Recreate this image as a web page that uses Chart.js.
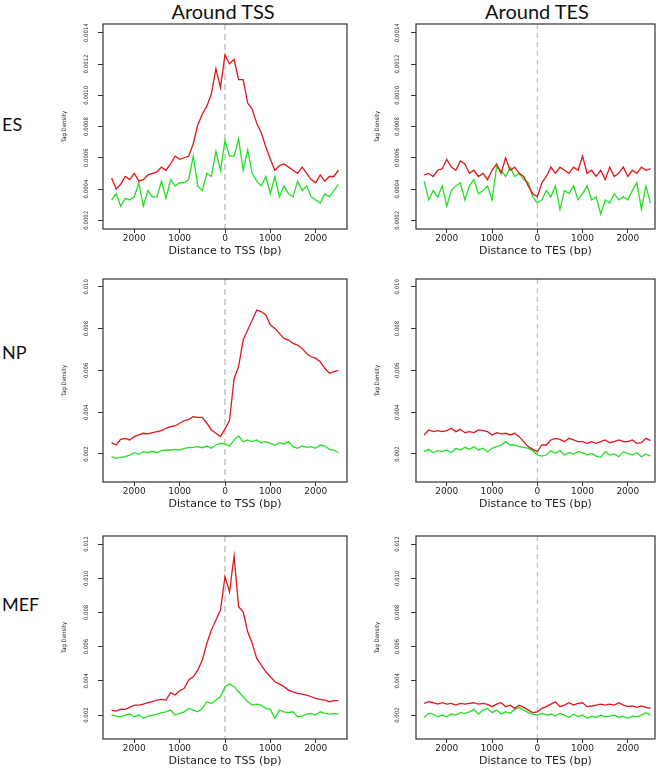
<!DOCTYPE html>
<html>
<head>
<meta charset="utf-8">
<script src="https://cdn.jsdelivr.net/npm/chart.js"></script>
<style>
  body { margin: 0; width: 661px; height: 769px; background: #fff; position: relative; overflow: hidden; font-family: Lato, "Open Sans", sans-serif; color: #111; }
  .coltitle { position: absolute; top: 1px; width: 250px; text-align: center; font-size: 20px; line-height: 20px; }
  .rowlabel { position: absolute; left: 2px; font-size: 18px; line-height: 18px; }
</style>
</head>
<body>
<div class="coltitle" style="left:98px">Around TSS</div>
<div class="coltitle" style="left:412px">Around TES</div>
<div class="rowlabel" style="top:115px">ES</div>
<div class="rowlabel" style="top:343px">NP</div>
<div class="rowlabel" style="top:595px">MEF</div>

<script>
// distance from TSS / TES in bp
const positions = [-2500, -2400, -2300, -2200, -2100, -2000, -1900, -1800, -1700, -1600,
  -1500, -1400, -1300, -1200, -1100, -1000, -900, -800, -700, -600,
  -500, -400, -300, -200, -100, 0, 100, 200, 300, 400,
  500, 600, 700, 800, 900, 1000, 1100, 1200, 1300, 1400,
  1500, 1600, 1700, 1800, 1900, 2000, 2100, 2200, 2300, 2400, 2500];
const xTicks = [-2000, -1000, 0, 1000, 2000];

const esTicks = [0.0002, 0.0004, 0.0006, 0.0008, 0.0010, 0.0012, 0.0014];
const npTicks = [0.002, 0.004, 0.006, 0.008, 0.010];
const mefTicks = [0.002, 0.004, 0.006, 0.008, 0.010, 0.012];

// ES values in units of 1e-4, NP and MEF in units of 1e-3
const esUnit = 1e-4;
const npUnit = 1e-3;
const mefUnit = 1e-3;

const esTssRed = [4.7, 4.0, 4.3, 4.8, 4.6, 5.0, 4.5, 4.6, 4.9, 5.0, 5.1, 5.4, 5.2, 5.6, 6.1, 5.9, 6.0, 6.1, 6.9, 8.1,
  8.8, 9.3, 10.1, 11.7, 10.5, 12.6, 12.0, 12.3, 11.0, 11.0, 9.5, 9.1, 8.2, 7.6, 6.7, 5.9, 5.2, 5.5, 5.6, 5.4,
  5.2, 5.0, 5.4, 5.0, 4.6, 4.4, 4.9, 4.5, 4.8, 4.8, 5.2];
const esTssGreen = [3.3, 3.7, 2.9, 3.4, 3.3, 3.5, 4.4, 2.9, 3.9, 3.5, 3.5, 4.5, 3.4, 4.6, 4.2, 4.4, 4.4, 4.6, 6.1, 4.2,
  3.9, 5.0, 4.8, 6.4, 5.2, 7.1, 6.1, 6.1, 7.2, 5.2, 6.5, 5.0, 4.5, 4.2, 4.8, 3.7, 4.8, 3.5, 4.2, 3.7,
  3.5, 4.5, 3.9, 4.2, 3.5, 3.3, 3.1, 3.7, 3.5, 3.9, 4.3];
const esTesRed = [4.9, 5.0, 4.8, 5.2, 5.3, 5.9, 5.4, 5.2, 5.8, 5.6, 5.0, 5.2, 4.8, 5.0, 4.6, 5.2, 5.6, 5.0, 6.0, 5.2,
  5.4, 5.0, 4.8, 4.2, 3.7, 3.5, 4.4, 4.8, 5.4, 5.0, 5.4, 5.2, 5.0, 5.4, 5.2, 6.1, 5.0, 5.2, 4.8, 5.2,
  4.6, 5.4, 4.8, 5.0, 5.4, 4.8, 5.2, 5.0, 5.4, 5.2, 5.3];
const esTesGreen = [4.5, 3.3, 3.9, 3.5, 4.2, 2.9, 3.9, 4.2, 4.4, 3.3, 4.2, 4.6, 3.7, 3.9, 4.2, 3.3, 5.4, 5.2, 4.8, 5.4,
  4.8, 5.0, 4.6, 4.4, 3.5, 3.1, 3.3, 3.9, 3.5, 4.2, 2.7, 3.9, 3.7, 4.2, 3.3, 3.7, 4.2, 3.3, 3.5, 2.4,
  3.3, 3.1, 3.7, 3.3, 3.5, 3.3, 3.9, 4.4, 2.7, 4.2, 3.1];

const npTssRed = [2.54, 2.43, 2.70, 2.75, 2.67, 2.83, 2.91, 2.99, 2.96, 3.02, 3.07, 3.12, 3.23, 3.31, 3.34, 3.47, 3.59, 3.66, 3.78, 3.75,
  3.75, 3.47, 3.15, 2.99, 2.83, 3.20, 3.60, 5.60, 6.18, 7.45, 7.93, 8.41, 8.88, 8.80, 8.65, 8.17, 8.00, 7.77, 7.53, 7.45,
  7.29, 7.21, 7.05, 6.81, 6.65, 6.57, 6.41, 6.10, 5.86, 5.94, 6.00];
const npTssGreen = [1.87, 1.79, 1.84, 1.87, 1.95, 2.06, 1.98, 2.11, 2.06, 2.13, 2.06, 2.16, 2.19, 2.19, 2.22, 2.19, 2.27, 2.30, 2.32, 2.35,
  2.30, 2.38, 2.27, 2.43, 2.51, 2.48, 2.38, 2.67, 2.86, 2.59, 2.67, 2.59, 2.67, 2.54, 2.59, 2.51, 2.43, 2.54, 2.48, 2.59,
  2.35, 2.27, 2.38, 2.32, 2.35, 2.27, 2.43, 2.38, 2.22, 2.19, 2.06];
const npTesRed = [2.91, 3.15, 3.07, 3.12, 3.07, 3.12, 3.23, 3.07, 3.18, 3.02, 3.07, 3.02, 3.15, 3.12, 3.07, 2.91, 3.02, 2.96, 2.99, 2.91,
  2.99, 2.83, 2.59, 2.35, 2.22, 2.11, 2.43, 2.43, 2.67, 2.75, 2.70, 2.59, 2.75, 2.67, 2.59, 2.59, 2.51, 2.59, 2.51, 2.59,
  2.67, 2.54, 2.59, 2.67, 2.59, 2.59, 2.67, 2.51, 2.54, 2.75, 2.64];
const npTesGreen = [2.11, 2.22, 2.06, 2.16, 2.11, 2.19, 2.06, 2.27, 2.19, 2.32, 2.22, 2.35, 2.19, 2.27, 2.11, 2.27, 2.35, 2.43, 2.59, 2.43,
  2.43, 2.35, 2.32, 2.27, 2.16, 1.95, 1.90, 1.95, 2.16, 2.03, 2.16, 1.95, 2.06, 2.00, 2.11, 2.06, 1.95, 2.03, 1.90, 1.84,
  2.11, 1.95, 2.00, 1.87, 2.11, 2.03, 1.95, 2.06, 1.87, 2.00, 1.90];

const mefTssRed = [2.29, 2.23, 2.35, 2.33, 2.45, 2.58, 2.58, 2.64, 2.72, 2.78, 2.88, 2.92, 2.88, 3.31, 3.17, 3.42, 3.56, 4.05, 4.24, 4.63,
  5.22, 6.19, 6.97, 7.56, 8.14, 10.1, 9.2, 11.3, 8.34, 8.04, 6.87, 6.19, 5.31, 4.92, 4.53, 4.24, 3.95, 3.81, 3.66, 3.46,
  3.36, 3.27, 3.23, 3.17, 3.07, 2.97, 2.92, 2.88, 2.78, 2.84, 2.84];
const mefTssGreen = [2.00, 1.94, 1.90, 2.00, 2.06, 1.90, 2.00, 1.81, 1.94, 2.00, 2.06, 2.14, 2.19, 2.29, 2.00, 2.10, 2.19, 2.39, 2.29, 2.19,
  2.39, 2.78, 2.68, 2.88, 3.07, 3.66, 3.81, 3.66, 3.36, 3.07, 2.78, 2.58, 2.64, 2.58, 2.39, 2.33, 1.81, 2.29, 2.19, 2.14,
  2.19, 1.90, 1.94, 2.06, 2.10, 2.00, 2.19, 2.10, 2.06, 2.10, 2.06];
const mefTesRed = [2.68, 2.78, 2.72, 2.64, 2.72, 2.64, 2.68, 2.58, 2.68, 2.64, 2.68, 2.72, 2.64, 2.68, 2.62, 2.49, 2.64, 2.72, 2.49, 2.58,
  2.39, 2.58, 2.45, 2.29, 2.14, 2.19, 2.39, 2.49, 2.64, 2.78, 2.49, 2.58, 2.72, 2.58, 2.68, 2.72, 2.49, 2.53, 2.58, 2.64,
  2.58, 2.64, 2.58, 2.72, 2.58, 2.49, 2.53, 2.45, 2.53, 2.45, 2.39];
const mefTesGreen = [1.86, 2.10, 2.06, 1.90, 2.00, 1.90, 2.06, 2.00, 2.14, 2.10, 2.19, 2.33, 2.06, 2.29, 2.39, 2.14, 2.29, 2.06, 2.19, 2.10,
  2.33, 2.45, 2.29, 2.14, 2.06, 2.00, 2.10, 2.00, 2.06, 1.94, 2.10, 2.00, 1.86, 2.06, 1.90, 2.00, 1.81, 1.94, 1.86, 2.00,
  1.90, 1.94, 2.00, 1.86, 1.94, 1.81, 1.94, 1.90, 2.00, 2.14, 2.00];

const RED = '#e3161b';
const GREEN = '#22e022';
const narrowFont = '"Liberation Sans Narrow", "DejaVu Sans Condensed", sans-serif';

Chart.defaults.font.family = '"DejaVu Sans", sans-serif';

const rows = [
  { top: 24, bottom: 229, yMin: 0.000144, yMax: 0.001456, yTicks: esTicks, unit: esUnit, digits: 4,
    tss: [esTssRed, esTssGreen], tes: [esTesRed, esTesGreen] },
  { top: 279, bottom: 482, yMin: 0.00066, yMax: 0.01037, yTicks: npTicks, unit: npUnit, digits: 3,
    tss: [npTssRed, npTssGreen], tes: [npTesRed, npTesGreen] },
  { top: 536, bottom: 739, yMin: 0.0006, yMax: 0.01247, yTicks: mefTicks, unit: mefUnit, digits: 3,
    tss: [mefTssRed, mefTssGreen], tes: [mefTesRed, mefTesGreen] }
];

const cols = [
  { key: 'tss', left: 55, width: 300, padRight: 8, xMin: -2690, xMax: 2690, title: 'Distance to TSS (bp)',
    zeroWidth: 2, zeroColor: '#d2d2d2', zeroDash: [6, 4], labelGap: 16.5 },
  { key: 'tes', left: 368, width: 293, padRight: 6, xMin: -2680, xMax: 2600, title: 'Distance to TES (bp)',
    zeroWidth: 1, zeroColor: '#b4b4b4', zeroDash: [5, 4], labelGap: 19 }
];

// box, dashed line at 0 and the rotated y tick labels (R style)
const panelPlugin = {
  id: 'panel',
  beforeDatasetsDraw(chart, args, opts) {
    const { ctx, chartArea: a, scales: { x } } = chart;
    const px = x.getPixelForValue(0);
    ctx.save();
    ctx.strokeStyle = opts.zeroColor;
    ctx.lineWidth = opts.zeroWidth;
    ctx.setLineDash(opts.zeroDash);
    ctx.beginPath();
    ctx.moveTo(px, a.top);
    ctx.lineTo(px, a.bottom);
    ctx.stroke();
    ctx.restore();
  },
  afterDraw(chart, args, opts) {
    const { ctx, chartArea: a, scales: { y } } = chart;
    ctx.save();
    ctx.strokeStyle = '#333';
    ctx.lineWidth = 1.2;
    ctx.strokeRect(a.left, a.top, a.right - a.left, a.bottom - a.top);
    ctx.fillStyle = '#333';
    ctx.font = '6px ' + narrowFont;
    ctx.textAlign = 'center';
    ctx.textBaseline = 'middle';
    y.ticks.forEach(t => {
      ctx.save();
      ctx.translate(a.left - opts.labelGap, y.getPixelForValue(t.value));
      ctx.rotate(-Math.PI / 2);
      ctx.fillText(t.value.toFixed(opts.digits), 0, 0);
      ctx.restore();
    });
    ctx.restore();
  }
};

rows.forEach(row => {
  cols.forEach(col => {
    const h = row.bottom - row.top + 33;
    const canvas = document.createElement('canvas');
    canvas.width = col.width;
    canvas.height = h;
    canvas.style.cssText = `position:absolute;left:${col.left}px;top:${row.top - 4}px;width:${col.width}px;height:${h}px`;
    document.body.appendChild(canvas);

    const red = row[col.key][0];
    const green = row[col.key][1];

    new Chart(canvas, {
      type: 'line',
      data: {
        datasets: [
          { data: positions.map((p, i) => ({ x: p, y: red[i] * row.unit })), borderColor: RED, borderWidth: 1.3 },
          { data: positions.map((p, i) => ({ x: p, y: green[i] * row.unit })), borderColor: GREEN, borderWidth: 1.3 }
        ]
      },
      options: {
        responsive: false,
        animation: false,
        devicePixelRatio: 1,
        events: [],
        layout: { padding: { top: 4, right: col.padRight, bottom: 0, left: 0 } },
        elements: { point: { radius: 0 }, line: { tension: 0 } },
        plugins: {
          legend: { display: false },
          tooltip: { enabled: false },
          panel: { zeroWidth: col.zeroWidth, zeroColor: col.zeroColor, zeroDash: col.zeroDash,
                   labelGap: col.labelGap, digits: row.digits }
        },
        scales: {
          x: {
            type: 'linear',
            min: col.xMin,
            max: col.xMax,
            afterBuildTicks: s => { s.ticks = xTicks.map(v => ({ value: v })); },
            afterFit: s => { s.height = 29; },
            ticks: { autoSkip: false, maxRotation: 0, padding: 0, color: '#222', font: { size: 9 },
                     callback: v => String(Math.abs(v)) },
            grid: { drawOnChartArea: false, tickLength: 4, color: '#333' },
            border: { display: false },
            title: { display: true, text: col.title, color: '#222', font: { size: 11 }, padding: 0 }
          },
          y: {
            min: row.yMin,
            max: row.yMax,
            afterBuildTicks: s => { s.ticks = row.yTicks.map(v => ({ value: v })); },
            afterFit: s => { s.width = 48; },
            ticks: { display: false },
            grid: { drawOnChartArea: false, tickLength: 5, color: '#333' },
            border: { display: false },
            title: { display: true, text: 'Tag Density', color: '#222', font: { size: 6, family: narrowFont },
                     padding: { top: 6, bottom: 0 } }
          }
        }
      },
      plugins: [panelPlugin]
    });
  });
});
</script>
</body>
</html>
